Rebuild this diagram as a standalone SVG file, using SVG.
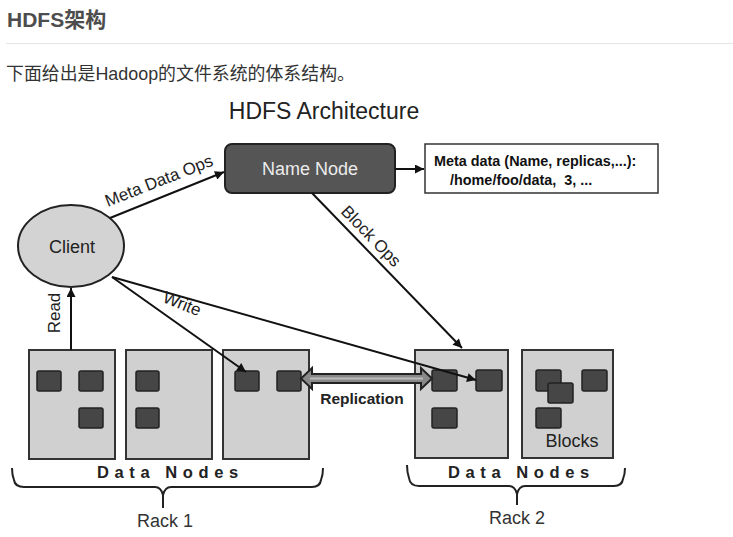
<svg xmlns="http://www.w3.org/2000/svg" width="733" height="537" viewBox="0 0 733 537">
<style>
.dn{fill:#d0d0d0;stroke:#333;stroke-width:2}
.blk{fill:#464646;stroke:#222;stroke-width:1.5}
.ln{stroke:#111;stroke-width:2;fill:none}
.lbl{font-family:"Liberation Sans",Arial,sans-serif;font-size:17px;fill:#222}
.dnt{font-family:"Liberation Sans",Arial,sans-serif;font-size:16.5px;font-weight:bold;letter-spacing:5.6px;fill:#222}
.brace{stroke:#222;stroke-width:2;fill:none}
.sans{font-family:"Liberation Sans",Arial,sans-serif}
</style>
<defs>
<marker id="ah" viewBox="0 0 10 10" refX="10" refY="5" markerWidth="11" markerHeight="9" markerUnits="userSpaceOnUse" orient="auto">
<path d="M0,0 L10,5 L0,10 z" fill="#111"/>
</marker>
</defs>
<rect width="733" height="537" fill="#fff"/>
<text x="7" y="27" font-size="21" font-weight="bold" fill="#4d4d4d" font-family="'Liberation Sans','Noto Sans CJK SC',sans-serif">HDFS架构</text>
<line x1="6" y1="43.5" x2="733" y2="43.5" stroke="#e5e5e5" stroke-width="1"/>
<text x="6" y="80" font-size="17.9" fill="#333" font-family="'Liberation Sans','Noto Sans CJK SC',sans-serif">下面给出是Hadoop的文件系统的体系结构。</text>
<text class="sans" x="324" y="119" font-size="23" fill="#222" text-anchor="middle">HDFS Architecture</text>

<g id="client">
<ellipse cx="71" cy="246" rx="53" ry="41" fill="#d3d3d3" stroke="#222" stroke-width="2"/>
<text class="sans" x="72" y="253" font-size="18" fill="#222" text-anchor="middle">Client</text>
</g>

<g id="namenode">
<rect x="225" y="144" width="170" height="49" rx="7" fill="#555" stroke="#222" stroke-width="2"/>
<text class="sans" x="310" y="175" font-size="18" fill="#ececec" text-anchor="middle">Name Node</text>
</g>

<g id="metadata">
<rect x="425" y="144" width="233" height="49" fill="#fff" stroke="#333" stroke-width="1.5"/>
<text class="sans" x="434" y="166" font-size="14.4" font-weight="bold" fill="#111">Meta data (Name, replicas,...):</text>
<text class="sans" x="450" y="185" font-size="14.4" font-weight="bold" fill="#111" xml:space="preserve" style="white-space:pre">/home/foo/data,  3, ...</text>
</g>

<g id="datanode1">
<rect class="dn" x="29" y="350" width="86" height="109"/>
<rect class="blk" x="37" y="371" width="24" height="20" rx="2"/>
<rect class="blk" x="79" y="371" width="24" height="20" rx="2"/>
<rect class="blk" x="79" y="408" width="24" height="20" rx="2"/>
</g>
<g id="datanode2">
<rect class="dn" x="126" y="350" width="86" height="109"/>
<rect class="blk" x="136" y="371" width="23" height="20" rx="2"/>
<rect class="blk" x="136" y="408" width="23" height="20" rx="2"/>
</g>
<g id="datanode3">
<rect class="dn" x="223" y="350" width="86" height="109"/>
<rect class="blk" x="235" y="371" width="24" height="20" rx="2"/>
<rect class="blk" x="277" y="371" width="24" height="20" rx="2"/>
</g>
<g id="datanode4">
<rect class="dn" x="415" y="350" width="93" height="108"/>
<rect class="blk" x="432" y="370" width="25" height="21" rx="2"/>
<rect class="blk" x="476" y="370" width="26" height="21" rx="2"/>
<rect class="blk" x="432" y="408" width="25" height="20" rx="2"/>
</g>
<g id="datanode5">
<rect class="dn" x="522" y="350" width="91" height="108"/>
<rect class="blk" x="536" y="370" width="25" height="21" rx="2"/>
<rect class="blk" x="548" y="383" width="25" height="20" rx="2"/>
<rect class="blk" x="582" y="370" width="25" height="21" rx="2"/>
<rect class="blk" x="536" y="408" width="25" height="20" rx="2"/>
<text class="sans" x="572" y="447" font-size="18" fill="#222" text-anchor="middle">Blocks</text>
</g>

<g id="rack1">
<text class="dnt" x="97" y="478">Data Nodes</text>
<path class="brace" d="M12,468 Q12,475 14,480 Q15,487 24,487 L155,487 Q161,487 163,495 L163,508 M163,495 Q165,487 171,487 L312,487 Q320,487 321,480 Q323,475 323,468"/>
<text class="sans" x="165" y="527" font-size="18" fill="#333" text-anchor="middle">Rack 1</text>
</g>

<g id="rack2">
<text class="dnt" x="448" y="478">Data Nodes</text>
<path class="brace" d="M407,465 Q407,472 409,478 Q410,486 419,486 L509,486 Q515,486 517,494 L517,505 M517,494 Q519,486 525,486 L614,486 Q622,486 623,479 Q625,474 625,468"/>
<text class="sans" x="517" y="524" font-size="18" fill="#333" text-anchor="middle">Rack 2</text>
</g>

<g id="connectors">
<line class="ln" x1="110" y1="218" x2="224" y2="172" marker-end="url(#ah)"/>
<line class="ln" x1="395" y1="169" x2="424" y2="169" marker-end="url(#ah)"/>
<line class="ln" x1="312" y1="193" x2="462" y2="348" marker-end="url(#ah)"/>
<line class="ln" x1="71" y1="350" x2="71" y2="288" marker-end="url(#ah)"/>
<line class="ln" x1="112" y1="277" x2="246" y2="372" marker-end="url(#ah)"/>
<line class="ln" x1="112" y1="277" x2="476" y2="380" marker-end="url(#ah)"/>
<path d="M301,378.5 L312,368 L312,374 L421,374 L421,368 L432,378.5 L421,389 L421,383 L312,383 L312,389 Z" fill="#888" stroke="#222" stroke-width="2"/>
<line x1="310" y1="378.5" x2="423" y2="378.5" stroke="#bbb" stroke-width="2"/>
<text class="sans" x="362" y="404" font-size="15.5" font-weight="bold" fill="#222" text-anchor="middle">Replication</text>
<text class="lbl" transform="translate(161,186) rotate(-21.5)" text-anchor="middle">Meta Data Ops</text>
<text class="lbl" transform="translate(367,240) rotate(46)" text-anchor="middle">Block Ops</text>
<text class="lbl" transform="translate(180,309) rotate(22)" text-anchor="middle">Write</text>
<text class="lbl" transform="translate(60,313) rotate(-90)" text-anchor="middle">Read</text>
</g>
</svg>
